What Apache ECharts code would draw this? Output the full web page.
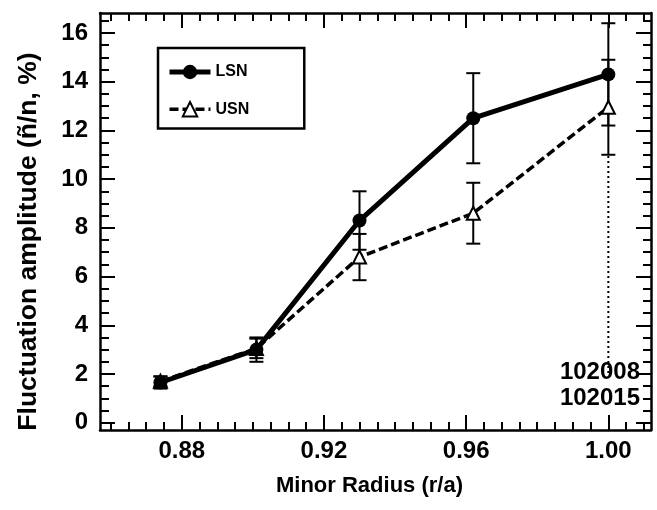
<!DOCTYPE html>
<html>
<head>
<meta charset="utf-8">
<script src="https://cdn.jsdelivr.net/npm/echarts@6/dist/echarts.min.js"></script>
<style>
html, body { margin: 0; padding: 0; background: #fff; }
#chart { width: 657px; height: 510px; }
</style>
</head>
<body>
<div id="chart"></div>
<script>
// Normalised minor radius of each measurement
const radius = [0.874, 0.901, 0.930, 0.962, 1.000];
// Lower single-null shots: amplitude and error
const lsnAmp = [1.65, 3.0, 8.3, 12.5, 14.3];
const lsnErr = [0.25, 0.5, 1.2, 1.85, 2.1];
// Upper single-null shots: amplitude and error
const usnAmp = [1.7, 3.05, 6.8, 8.6, 12.95];
const usnErr = [0.2, 0.4, 0.95, 1.25, 1.95];
// Tick labels
const xTicks = [0.88, 0.92, 0.96, 1.00];
const yTicks = [0, 2, 4, 6, 8, 10, 12, 14, 16];
// Dotted guide at the separatrix
const guideLine = [[1.0, 10.95], [1.0, 2.0]];
const shotNumbers = ['102008', '102015'];

const FONT = '"Liberation Sans", Arial, Helvetica, sans-serif';
const X_MIN = 0.857, X_MAX = 1.012;
const Y_MIN = -0.3, Y_MAX = 16.82;

function minorValues(start, end, step, majors) {
  const out = [];
  for (let v = start; v <= end + 1e-9; v += step) {
    const r = Math.round(v * 1000) / 1000;
    if (!majors.some(m => Math.abs(m - r) < 1e-6)) out.push(r);
  }
  return out;
}
const xMinor = minorValues(0.86, 1.01, 0.005, xTicks);
const yMinor = minorValues(0, 16.5, 0.5, yTicks);

function errorData(xs, ys, es) {
  return xs.map((x, i) => [x, ys[i] - es[i], ys[i] + es[i]]);
}

function errorBarSeries(data) {
  return {
    type: 'custom',
    data: data,
    encode: { x: 0, y: [1, 2] },
    z: 1,
    renderItem: function (params, api) {
      const x = api.value(0);
      const top = api.coord([x, api.value(2)]);
      const bot = api.coord([x, api.value(1)]);
      const hw = 7;
      const st = { stroke: '#000', lineWidth: 2 };
      return {
        type: 'group',
        children: [
          { type: 'line', shape: { x1: top[0], y1: top[1], x2: bot[0], y2: bot[1] }, style: st },
          { type: 'line', shape: { x1: top[0] - hw, y1: top[1], x2: top[0] + hw, y2: top[1] }, style: st },
          { type: 'line', shape: { x1: bot[0] - hw, y1: bot[1], x2: bot[0] + hw, y2: bot[1] }, style: st }
        ]
      };
    }
  };
}

function xAxisDef(pos, ticks, len, showLabel, showLine) {
  return {
    type: 'value', position: pos, min: X_MIN, max: X_MAX,
    splitLine: { show: false },
    axisLine: { show: showLine, onZero: false, lineStyle: { color: '#000', width: 2.5 } },
    axisTick: { show: true, inside: true, length: len, customValues: ticks, lineStyle: { color: '#000', width: 2 } },
    axisLabel: showLabel ? {
      show: true, customValues: ticks, margin: 9,
      formatter: v => v.toFixed(2),
      color: '#000', fontFamily: FONT, fontWeight: 'bold', fontSize: 24
    } : { show: false }
  };
}
function yAxisDef(pos, ticks, len, showLabel, showLine) {
  return {
    type: 'value', position: pos, min: Y_MIN, max: Y_MAX,
    splitLine: { show: false },
    axisLine: { show: showLine, onZero: false, lineStyle: { color: '#000', width: 2.5 } },
    axisTick: { show: true, inside: true, length: len, customValues: ticks, lineStyle: { color: '#000', width: 2 } },
    axisLabel: showLabel ? {
      show: true, customValues: ticks, margin: 12,
      formatter: v => String(Math.round(v)),
      color: '#000', fontFamily: FONT, fontWeight: 'bold', fontSize: 24
    } : { show: false }
  };
}

const xMain = xAxisDef('bottom', xTicks, 15, true, true);
xMain.name = 'Minor Radius (r/a)';
xMain.nameLocation = 'middle';
xMain.nameGap = 45;
xMain.nameTextStyle = { color: '#000', fontFamily: FONT, fontWeight: 'bold', fontSize: 22, padding: [0, 12, 0, 0] };

const yMain = yAxisDef('left', yTicks, 15, true, true);
yMain.name = 'Fluctuation amplitude (ñ/n, %)';
yMain.nameLocation = 'middle';
yMain.nameGap = 58;
yMain.nameTextStyle = { color: '#000', fontFamily: FONT, fontWeight: 'bold', fontSize: 26.5, padding: [0, 40, 0, 0] };

const chart = echarts.init(document.getElementById('chart'), null, { renderer: 'canvas' });
chart.setOption({
  animation: false,
  backgroundColor: '#fff',
  grid: { left: 100, right: 6, top: 13, bottom: 80, containLabel: false },
  legend: {
    orient: 'vertical', left: 158, top: 48,
    data: ['LSN', 'USN'],
    borderColor: '#000', borderWidth: 2.5, borderRadius: 0,
    padding: [16, 55, 11, 9],
    itemGap: 21, itemWidth: 41, itemHeight: 18,
    lineStyle: { width: 'inherit' },
    textStyle: { color: '#000', fontFamily: FONT, fontWeight: 'bold', fontSize: 16 }
  },
  xAxis: [
    xMain,
    xAxisDef('bottom', xMinor, 8, false, false),
    xAxisDef('top', xTicks, 15, false, true),
    xAxisDef('top', xMinor, 8, false, false)
  ],
  yAxis: [
    yMain,
    yAxisDef('left', yMinor, 9, false, false),
    yAxisDef('right', yTicks, 15, false, true),
    yAxisDef('right', yMinor, 8, false, false)
  ],
  series: [
    errorBarSeries(errorData(radius, lsnAmp, lsnErr)),
    errorBarSeries(errorData(radius, usnAmp, usnErr)),
    {
      type: 'line', data: guideLine, symbol: 'none', silent: true, z: 1,
      lineStyle: { color: '#000', width: 2, type: [2, 3] }
    },
    {
      name: 'USN', type: 'line', z: 3,
      data: radius.map((x, i) => [x, usnAmp[i]]),
      symbol: 'triangle', symbolSize: 13,
      lineStyle: { color: '#000', width: 3.5, type: [9, 4] },
      itemStyle: { color: '#fff', borderColor: '#000', borderWidth: 2 }
    },
    {
      name: 'LSN', type: 'line', z: 4,
      data: radius.map((x, i) => [x, lsnAmp[i]]),
      symbol: 'circle', symbolSize: 14,
      lineStyle: { color: '#000', width: 5 },
      itemStyle: { color: '#000', borderColor: '#000', borderWidth: 0 }
    }
  ],
  graphic: shotNumbers.map((t, i) => ({
    type: 'text', right: 17, top: 360 + i * 26, z: 10,
    style: { text: t, fill: '#000', font: 'bold 24px ' + FONT, textAlign: 'right' }
  }))
});
</script>
</body>
</html>
